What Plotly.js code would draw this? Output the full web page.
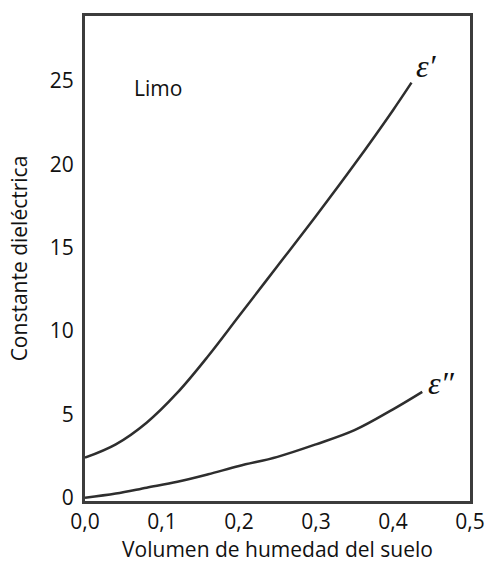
<!DOCTYPE html>
<html>
<head>
<meta charset="utf-8">
<script src="https://cdn.plot.ly/plotly-3.0.1.min.js"></script>
<style>html,body{margin:0;padding:0;background:#fff;}#chart{width:488px;height:563px;}</style>
</head>
<body>
<div id="chart"></div>
<script>
// Volumen de humedad del suelo (x) and dielectric constants
const moistureReal = [0, 0.04, 0.08, 0.12, 0.16, 0.2, 0.25, 0.3, 0.35, 0.4, 0.424];
const epsReal      = [2.4, 3.2, 4.5, 6.3, 8.5, 10.9, 13.9, 16.9, 20.0, 23.25, 24.9];
const moistureImag = [0, 0.04, 0.08, 0.12, 0.16, 0.2, 0.25, 0.3, 0.35, 0.4, 0.438];
const epsImag      = [0, 0.25, 0.6, 0.95, 1.4, 1.9, 2.45, 3.2, 4.05, 5.3, 6.35];
const xTicks = [0, 0.1, 0.2, 0.3, 0.4, 0.5];
const yTicks = [0, 5, 10, 15, 20, 25];
const soilLabel = "Limo";
const realLabel = "<i>ε′</i>";
const imagLabel = "<i>ε″</i>";

const font = "Open Sans, sans-serif";
const lineStyle = {color: "#2e2e2e", width: 2.5, shape: "spline", smoothing: 1};

const data = [
  {x: moistureReal, y: epsReal, mode: "lines", line: lineStyle, hoverinfo: "skip", showlegend: false},
  {x: moistureImag, y: epsImag, mode: "lines", line: lineStyle, hoverinfo: "skip", showlegend: false}
];

const layout = {
  width: 488, height: 563,
  margin: {l: 85, r: 18, t: 16, b: 62},
  paper_bgcolor: "#fff", plot_bgcolor: "#fff",
  separators: ", ",
  font: {family: font, size: 21, color: "#111"},
  showlegend: false,
  xaxis: {
    range: [0, 0.5], tickvals: xTicks, tickformat: ".1f",
    showgrid: false, zeroline: false,
    showline: true, mirror: true, linecolor: "#3c3c3c", linewidth: 3,
    ticks: "", ticklabelstandoff: 0,
    title: {text: "Volumen de humedad del suelo", font: {family: font, size: 21}, standoff: 15}
  },
  yaxis: {
    range: [-0.2, 28.9], tickvals: yTicks,
    showgrid: false, zeroline: false,
    showline: true, mirror: true, linecolor: "#3c3c3c", linewidth: 3,
    ticks: "", ticklabelstandoff: 4,
    title: {text: "Constante dieléctrica", font: {family: font, size: 21}, standoff: 17}
  },
  annotations: [
    {x: 0.095, y: 24.6, xref: "x", yref: "y", text: soilLabel, showarrow: false,
     font: {family: font, size: 21, color: "#111"}, xanchor: "center", yanchor: "middle"},
    {x: 0.444, y: 25.9, xref: "x", yref: "y", text: realLabel, showarrow: false,
     font: {family: "Liberation Serif, serif", size: 32, color: "#111"}, xanchor: "center", yanchor: "middle"},
    {x: 0.463, y: 6.9, xref: "x", yref: "y", text: imagLabel, showarrow: false,
     font: {family: "Liberation Serif, serif", size: 32, color: "#111"}, xanchor: "center", yanchor: "middle"}
  ]
};

Plotly.newPlot("chart", data, layout, {staticPlot: true, displayModeBar: false});
</script>
</body>
</html>
